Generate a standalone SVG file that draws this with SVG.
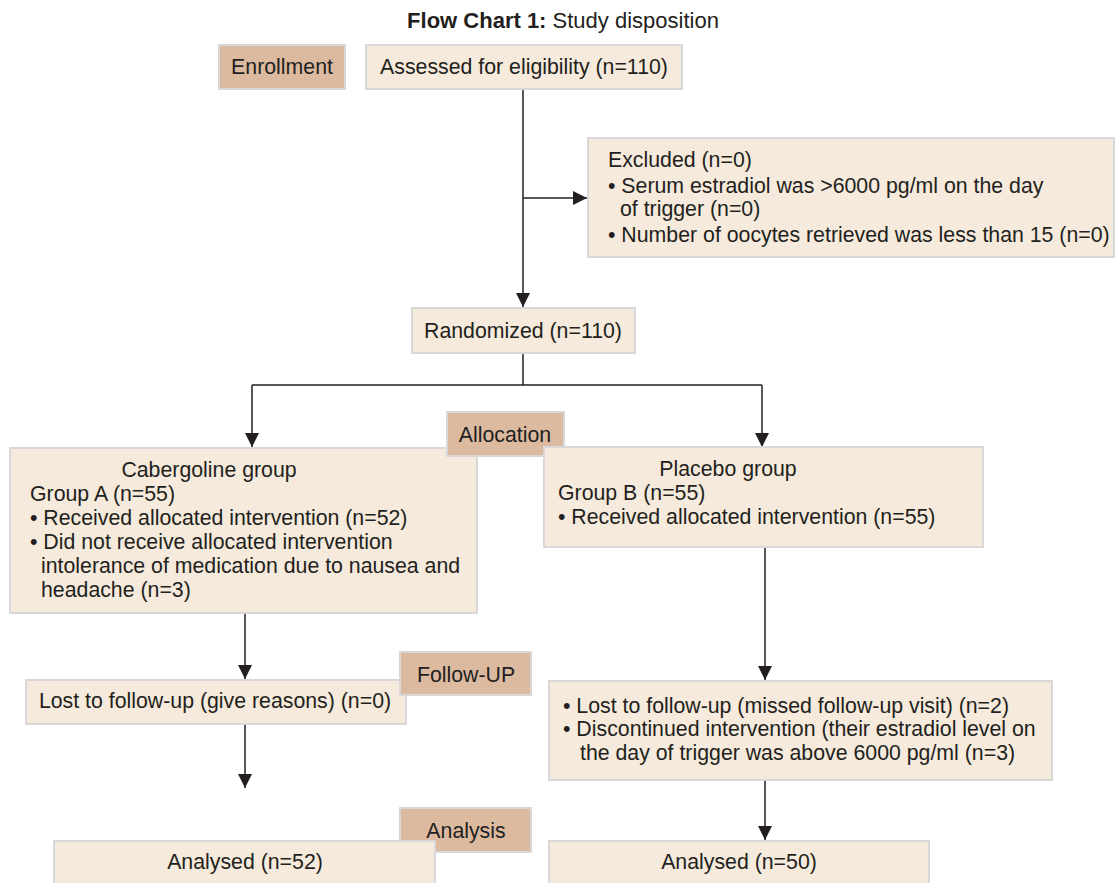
<svg xmlns="http://www.w3.org/2000/svg" width="1118" height="883" viewBox="0 0 1118 883">
<style>
text{font-family:"Liberation Sans",Arial,sans-serif;font-size:21.3px;fill:#231f20}
.box{fill:#f5eadb;stroke:#d8d8d8;stroke-width:2}
.lab{fill:#dbbaa0;stroke:#d8d8d8;stroke-width:2}
.c{text-anchor:middle}
.ln{stroke:#231f20;stroke-width:1.5;fill:none}
</style>
<defs>
<marker id="ah" viewBox="0 0 14 14" refX="14" refY="7" markerWidth="14" markerHeight="14" markerUnits="userSpaceOnUse" orient="auto">
<path d="M0,0 L14,7 L0,14 z" fill="#231f20"/>
</marker>
</defs>
<rect width="1118" height="883" fill="#fff"/>
<text x="563" y="28" class="c" style="font-size:22px"><tspan font-weight="bold">Flow Chart 1:</tspan> Study disposition</text>

<g id="connectors">
<line class="ln" x1="523" y1="89" x2="523" y2="307" marker-end="url(#ah)"/>
<line class="ln" x1="523" y1="198" x2="587" y2="198" marker-end="url(#ah)"/>
<polyline class="ln" points="523,353 523,385"/>
<line class="ln" x1="252" y1="385" x2="762" y2="385"/>
<line class="ln" x1="252" y1="385" x2="252" y2="447" marker-end="url(#ah)"/>
<line class="ln" x1="762" y1="385" x2="762" y2="447" marker-end="url(#ah)"/>
<line class="ln" x1="245" y1="613" x2="245" y2="679" marker-end="url(#ah)"/>
<line class="ln" x1="765" y1="547" x2="765" y2="680" marker-end="url(#ah)"/>
<line class="ln" x1="245" y1="724" x2="245" y2="788" marker-end="url(#ah)"/>
<line class="ln" x1="765" y1="780" x2="765" y2="840" marker-end="url(#ah)"/>
</g>

<g id="enrollment"><rect class="lab" x="219" y="45" width="126" height="44"/><text x="282" y="74" class="c">Enrollment</text></g>
<g id="assessed"><rect class="box" x="366" y="45" width="316" height="44"/><text x="524" y="74" class="c">Assessed for eligibility (n=110)</text></g>
<g id="excluded"><rect class="box" x="588" y="138" width="526" height="119"/>
<text x="608" y="167">Excluded (n=0)</text>
<text x="608" y="193">• Serum estradiol was &gt;6000 pg/ml on the day</text>
<text x="620" y="216">of trigger (n=0)</text>
<text x="608" y="242">• Number of oocytes retrieved was less than 15 (n=0)</text></g>
<g id="randomized"><rect class="box" x="412" y="308" width="223" height="45"/><text x="523" y="338" class="c">Randomized (n=110)</text></g>
<g id="cabergoline"><rect class="box" x="10" y="448" width="467" height="165"/>
<text x="209" y="477" class="c">Cabergoline group</text>
<text x="30" y="501">Group A (n=55)</text>
<text x="30" y="525">• Received allocated intervention (n=52)</text>
<text x="30" y="549">• Did not receive allocated intervention</text>
<text x="41" y="573">intolerance of medication due to nausea and</text>
<text x="41" y="597">headache (n=3)</text></g>
<g id="allocation"><rect class="lab" x="447" y="412" width="117" height="44"/><text x="505" y="442" class="c">Allocation</text></g>
<g id="placebo"><rect class="box" x="544" y="447" width="439" height="100"/>
<text x="728" y="476" class="c">Placebo group</text>
<text x="558" y="500">Group B (n=55)</text>
<text x="558" y="524">• Received allocated intervention (n=55)</text></g>
<g id="lostA"><rect class="box" x="26" y="680" width="380" height="44"/><text x="215" y="708" class="c">Lost to follow-up (give reasons) (n=0)</text></g>
<g id="followup"><rect class="lab" x="400" y="652" width="131" height="43"/><text x="466" y="682" class="c">Follow-UP</text></g>
<g id="lostB"><rect class="box" x="549" y="681" width="503" height="99"/>
<text x="563" y="713">• Lost to follow-up (missed follow-up visit) (n=2)</text>
<text x="563" y="736">• Discontinued intervention (their estradiol level on</text>
<text x="580" y="760">the day of trigger was above 6000 pg/ml (n=3)</text></g>
<g id="analysis"><rect class="lab" x="400" y="808" width="131" height="44"/><text x="466" y="838" class="c">Analysis</text></g>
<g id="analysedA"><rect class="box" x="54" y="841" width="381" height="50"/><text x="245" y="869" class="c">Analysed (n=52)</text></g>
<g id="analysedB"><rect class="box" x="549" y="841" width="380" height="50"/><text x="739" y="869" class="c">Analysed (n=50)</text></g>
</svg>
